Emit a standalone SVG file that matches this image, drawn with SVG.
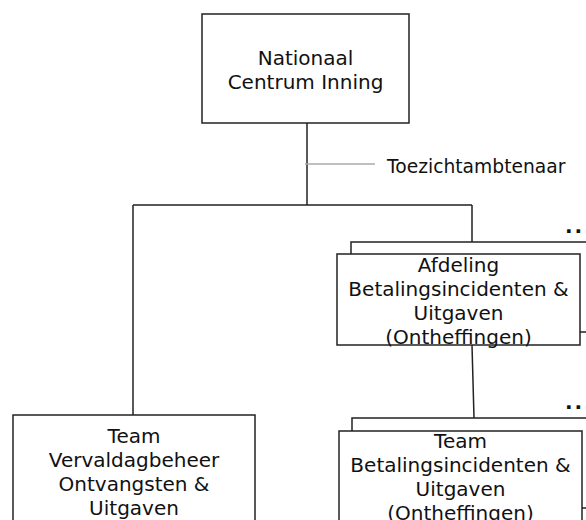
<svg xmlns="http://www.w3.org/2000/svg" width="586" height="520" viewBox="0 0 586 520">
<style>
.box{fill:#fff;stroke:#222;stroke-width:1.5}
.ln{stroke:#222;stroke-width:1.5;fill:none}
.t{font-family:"DejaVu Sans",Verdana,sans-serif;font-size:20px;fill:#111;text-anchor:middle}
.lbl{font-family:"DejaVu Sans",Verdana,sans-serif;font-size:18.7px;fill:#111}
.dots{font-family:"DejaVu Sans",Verdana,sans-serif;font-size:20px;font-weight:bold;fill:#111;letter-spacing:2px}
</style>
<rect width="586" height="520" fill="#fff"/>
<g id="connectors">
<path class="ln" d="M307 123V205M133 205H472M133 205V415M472 205V242M472 345L474 418"/>
<line x1="305" y1="164" x2="375" y2="164" stroke="#aaa" stroke-width="1.5"/>
</g>
<g id="nci">
<rect class="box" x="202" y="14" width="207" height="109"/>
<text class="t" x="305.5" y="65">Nationaal</text>
<text class="t" x="305.5" y="89">Centrum Inning</text>
</g>
<g id="toezicht">
<text class="lbl" x="387" y="173">Toezichtambtenaar</text>
</g>
<g id="afdeling">
<rect class="box" x="351" y="242" width="243" height="90"/>
<rect class="box" x="337" y="254" width="243" height="91"/>
<text class="t" x="458.5" y="272">Afdeling</text>
<text class="t" x="458.5" y="296">Betalingsincidenten &amp;</text>
<text class="t" x="458.5" y="320">Uitgaven</text>
<text class="t" x="458.5" y="344">(Ontheffingen)</text>
<text class="dots" x="565" y="233">...</text>
</g>
<g id="team-bi">
<rect class="box" x="352" y="418" width="243" height="90"/>
<rect class="box" x="339" y="431" width="243" height="91"/>
<text class="t" x="460.5" y="448">Team</text>
<text class="t" x="460.5" y="472">Betalingsincidenten &amp;</text>
<text class="t" x="460.5" y="496">Uitgaven</text>
<text class="t" x="460.5" y="520">(Ontheffingen)</text>
<text class="dots" x="565" y="409">...</text>
</g>
<g id="team-vo">
<rect class="box" x="13" y="415" width="242" height="120"/>
<text class="t" x="134" y="443">Team</text>
<text class="t" x="134" y="467">Vervaldagbeheer</text>
<text class="t" x="134" y="491">Ontvangsten &amp;</text>
<text class="t" x="134" y="515">Uitgaven</text>
</g>
</svg>
